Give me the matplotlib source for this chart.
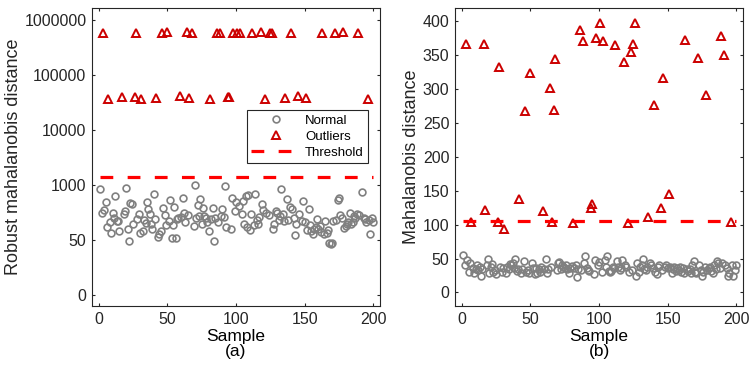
import numpy as np
import matplotlib.pyplot as plt

plt.rcParams['font.family'] = ['Liberation Sans', 'DejaVu Sans']

# SAMPLES
n_samples = 200

# OUTLIER SAMPLES (b) AND THEIR DISTANCES
out_idx = [3, 7, 16, 17, 26, 27, 31, 42, 46, 50, 59, 64, 66, 67, 68, 81, 86, 88, 94, 95,
           98, 101, 103, 112, 118, 121, 123, 125, 126, 136, 140, 145, 147, 151, 163, 172,
           178, 189, 191, 196]
out_md = [366, 104, 366, 122, 104, 333, 93, 138, 268, 324, 120, 302, 104, 270, 344, 102,
          387, 371, 124, 131, 376, 398, 371, 365, 340, 102, 355, 367, 398, 112, 276, 124,
          317, 146, 373, 346, 291, 378, 351, 104]

# NORMAL SAMPLES (everything that is not an outlier)
normal_idx = np.setdiff1d(np.arange(1, n_samples + 1), out_idx)

# (b) Mahalanobis distance of normal samples
normal_md = [55, 40, 48, 30, 44, 36, 28, 34, 41, 33, 38, 25, 35,
             40, 50, 28, 38, 42, 30, 33, 27,
             38, 30, 36, 28, 38, 35, 42, 40, 43, 36, 49, 31, 34, 29, 35, 46, 30, 33, 28,
             43, 36, 27, 36, 28, 34, 30, 38, 34, 49, 29, 35, 38, 33, 44, 45, 34, 40, 38, 36,
             40, 34, 28, 36, 39, 36, 40, 23, 35, 33, 43, 54, 36, 33, 31, 27, 48, 41, 45,
             30, 48, 38, 54, 32, 30, 32, 38, 36, 46, 38, 33, 36, 48, 40, 38, 30, 33,
             25, 43, 30, 38, 40, 50, 34, 33, 38, 43, 40, 36, 30, 27, 38, 41, 33, 38, 41, 36,
             38, 28, 34, 38, 31, 36, 33, 38, 30, 36, 29, 34, 31, 34, 28, 40, 46, 30, 28, 41, 33, 25,
             30, 38, 33, 36, 38, 31, 28, 41, 35, 46, 43, 36, 43, 40, 36, 25, 28, 41, 24, 33, 41]
md_threshold = 106

# (a) Robust distance, in tick-position units of the relabelled axis
rd_ticks = [0, 1, 2, 3, 4, 5]
rd_ticklabels = ['0', '50', '1000', '10000', '100000', '1000000']

normal_rd = [1.92, 1.50, 1.55, 1.70, 1.23, 1.32, 1.12, 1.50, 1.41, 1.80, 1.35, 1.35, 1.16,
             1.47, 1.53, 1.95, 1.21, 0.99, 1.68, 1.65, 1.30,
             1.39, 1.48, 1.12, 1.16, 1.36, 1.31, 1.70, 1.57, 1.47, 1.30, 1.20, 1.83, 1.39,
             1.06, 1.11, 1.16, 1.58, 1.45, 1.27,
             1.35, 1.73, 1.03, 1.27, 1.61, 1.04, 1.38, 1.41, 1.42, 1.76, 1.50, 1.33, 1.45,
             1.25, 2.01, 1.41, 1.64, 1.44, 1.74, 1.30,
             1.59, 1.44, 1.40, 1.33, 1.17, 1.38, 1.59, 0.98, 1.40, 1.32, 1.44, 1.57, 1.42,
             1.98, 1.24, 1.20, 1.76, 1.53, 1.70,
             1.62, 1.47, 1.71, 1.30, 1.81, 1.24, 1.82, 1.19, 1.48, 1.27, 1.84, 1.36, 1.29,
             1.42, 1.65, 1.55, 1.50, 1.45,
             1.21, 1.30, 1.52, 1.50, 1.36, 1.44, 1.93, 1.47, 1.35, 1.75, 1.36, 1.61, 1.57,
             1.40, 1.10, 1.30, 1.48, 1.35, 1.71, 1.33,
             1.19, 1.56, 1.28, 1.17, 1.11, 1.20, 1.24, 1.38, 1.20, 1.26, 1.15, 1.11, 1.35,
             1.13, 1.18, 0.95, 0.92, 0.94, 1.35, 1.36, 1.72, 1.76,
             1.45, 1.40, 1.22, 1.25, 1.30, 1.32, 1.50, 1.30, 1.33, 1.44, 1.40, 1.48, 1.45,
             1.88, 1.41, 1.38, 1.33, 1.37, 1.11, 1.40, 1.33]

out_hi_idx = [3, 27, 46, 50, 64, 68, 86, 88, 98, 101, 103, 112, 118, 125, 126, 140, 163,
              172, 178, 189]
out_hi_rd = [4.775, 4.775, 4.775, 4.78, 4.79, 4.775, 4.765, 4.775, 4.775, 4.775, 4.775,
             4.775, 4.785, 4.775, 4.775, 4.765, 4.765, 4.765, 4.785, 4.77]
out_lo_idx = [7, 17, 26, 31, 42, 59, 66, 81, 94, 95, 121, 136, 145, 151, 196]
out_lo_rd = [3.56, 3.60, 3.60, 3.56, 3.58, 3.62, 3.58, 3.56, 3.60, 3.60, 3.56, 3.58, 3.62,
             3.58, 3.56]
rd_threshold = 2.156

# STYLE
axis_col = (0.15, 0.15, 0.15)
grey = '#808080'
dark_red = '#CC0000'

fig = plt.figure(figsize=(7.5, 3.75), dpi=100)
ax1 = fig.add_axes([0.1227, 0.184, 0.384, 0.795])
ax2 = fig.add_axes([0.6067, 0.184, 0.384, 0.795])


def style_axes(ax):
    ax.set_xlim(-5, 205)
    ax.set_xticks([0, 50, 100, 150, 200])
    ax.tick_params(direction='in', length=2.5, width=0.8, top=True, right=True,
                   labelsize=11.5, colors=axis_col, pad=4)
    for s in ax.spines.values():
        s.set_color(axis_col)
        s.set_linewidth(0.8)


# (a)
ax1.plot(normal_idx, normal_rd, 'o', ms=4.9, mfc='none', mec=grey, mew=1.2, label='Normal')
ax1.plot(out_hi_idx + out_lo_idx, out_hi_rd + out_lo_rd, '^', ms=5.8, mfc='none',
         mec=dark_red, mew=1.4, label='Outliers')
ax1.plot([1, n_samples], [rd_threshold, rd_threshold], color='#FF0000', lw=2.3,
         linestyle=(0, (4, 4.5)), label='Threshold')
style_axes(ax1)
ax1.set_ylim(-0.2, 5.225)
ax1.set_yticks(rd_ticks)
ax1.set_yticklabels(rd_ticklabels)
ax1.set_xlabel('Sample\n(a)', fontsize=12.5, linespacing=1.0, color='black', labelpad=2)
ax1.set_ylabel('Robust mahalanobis distance', fontsize=13, color=axis_col, labelpad=2)
leg = ax1.legend(loc='upper right', bbox_to_anchor=(0.958, 0.656), fontsize=9.5,
                 handlelength=3.8, handletextpad=0.3, borderpad=0.3, labelspacing=0.3,
                 fancybox=False, framealpha=1, borderaxespad=0)
leg.get_frame().set_edgecolor(axis_col)
leg.get_frame().set_linewidth(0.8)

# (b)
ax2.plot(normal_idx, normal_md, 'o', ms=4.9, mfc='none', mec=grey, mew=1.2)
ax2.plot(out_idx, out_md, '^', ms=5.8, mfc='none', mec=dark_red, mew=1.4)
ax2.plot([1, n_samples], [md_threshold, md_threshold], color='#FF0000', lw=2.3,
         linestyle=(0, (4, 4.5)))
style_axes(ax2)
ax2.set_ylim(-20, 420)
ax2.set_yticks(np.arange(0, 401, 50))
ax2.set_xlabel('Sample\n(b)', fontsize=12.5, linespacing=1.0, color='black', labelpad=2)
ax2.set_ylabel('Mahalanobis distance', fontsize=13, color=axis_col, labelpad=2)

plt.savefig('out.png', dpi=100)
